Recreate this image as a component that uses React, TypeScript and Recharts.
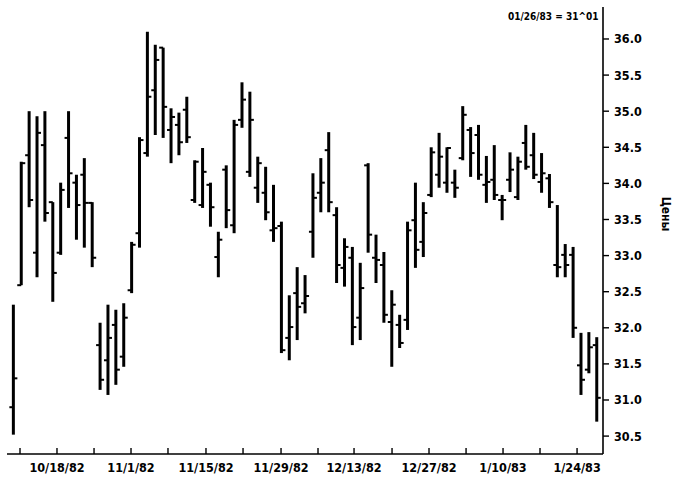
import React from 'react';
import { ComposedChart, Bar, XAxis, YAxis } from 'recharts';

// Daily OHLC (trading-day index 0..74)
const highs = [
  32.32, 34.30, 35.00, 34.93, 35.00, 33.74, 34.01, 35.00, 34.12, 34.35,
  33.74, 32.07, 32.32, 32.25, 32.34, 33.19, 34.64, 36.10, 35.92, 35.88,
  35.04, 34.98, 35.20, 34.32, 34.49, 34.01, 33.33, 34.25, 34.88, 35.40,
  35.27, 34.37, 34.23, 33.98, 33.47, 32.45, 32.84, 32.73, 34.14, 34.35,
  34.71, 33.67, 33.24, 33.12, 32.90, 34.28, 33.29, 33.05, 32.52, 32.18,
  33.47, 34.01, 33.74, 34.50, 34.70, 34.50, 34.19, 35.07, 34.78, 34.81,
  34.38, 34.53, 33.84, 34.43, 34.37, 34.81, 34.70, 34.42, 34.13, 33.70,
  33.16, 33.12, 31.93, 31.94, 31.87,
];
const lows = [
  30.52, 32.59, 33.67, 32.70, 33.47, 32.36, 33.01, 33.66, 33.22, 33.11,
  32.84, 31.14, 31.07, 31.21, 31.46, 32.48, 33.11, 34.37, 34.67, 34.63,
  34.28, 34.39, 34.56, 33.73, 33.66, 33.40, 32.70, 33.38, 33.31, 34.77,
  34.09, 33.73, 33.49, 33.19, 31.65, 31.55, 31.83, 32.20, 32.97, 33.60,
  33.60, 32.62, 32.57, 31.76, 31.83, 33.04, 32.62, 32.07, 31.46, 31.72,
  31.97, 32.83, 32.98, 33.81, 33.94, 33.87, 33.80, 34.32, 34.09, 34.05,
  33.73, 33.77, 33.49, 33.88, 33.77, 34.19, 34.06, 33.87, 33.66, 32.70,
  32.70, 31.86, 31.07, 31.37, 30.70,
];
const opens = [
  30.90, 32.59, 34.39, 33.04, 34.53, 33.74, 33.04, 34.63, 34.01, 34.12,
  33.73, 31.76, 31.55, 32.04, 31.60, 32.52, 33.31, 34.42, 35.29, 35.88,
  34.74, 34.81, 35.02, 33.77, 33.70, 33.98, 32.98, 34.19, 33.42, 34.88,
  34.16, 33.94, 33.87, 33.35, 33.41, 31.86, 32.48, 32.34, 33.33, 33.87,
  34.46, 33.56, 32.83, 32.97, 32.14, 34.25, 32.97, 32.87, 32.08, 32.04,
  32.11, 33.49, 33.19, 33.84, 34.12, 34.01, 34.01, 34.35, 34.74, 34.67,
  33.98, 34.05, 33.77, 34.05, 33.81, 34.56, 34.39, 34.02, 34.07, 32.87,
  33.01, 33.01, 31.48, 31.42, 31.76,
];
const closes = [
  31.30, 34.28, 33.77, 34.70, 33.59, 32.76, 33.91, 34.14, 33.70, 33.73,
  32.97, 31.28, 31.86, 31.42, 32.14, 33.15, 34.60, 35.20, 35.71, 35.06,
  34.92, 34.57, 34.64, 34.30, 34.16, 33.67, 33.22, 33.63, 34.81, 35.16,
  34.88, 34.28, 33.60, 33.38, 31.69, 32.01, 32.29, 32.44, 33.80, 34.01,
  33.74, 32.87, 33.12, 32.01, 32.55, 33.29, 32.94, 32.18, 32.32, 31.79,
  33.35, 33.08, 33.59, 34.43, 34.37, 34.49, 33.94, 34.95, 34.42, 34.12,
  34.02, 33.84, 33.77, 34.19, 34.30, 34.23, 34.12, 34.14, 33.74, 32.84,
  32.87, 32.00, 31.28, 31.73, 31.03,
];

// Date axis: tick positions (in trading-day units) and their labels
const dateTickPositions = [
  0.85, 5.54, 10.24, 14.93, 19.62, 24.44, 29.14, 33.96,
  38.65, 43.22, 48.04, 52.73, 57.43, 62.12, 66.81, 71.51,
];
const dateTickLabels = [
  '', '10/18/82', '', '11/1/82', '', '11/15/82', '', '11/29/82',
  '', '12/13/82', '', '12/27/82', '', '1/10/83', '', '1/24/83',
];
const priceTicks = [30.5, 31.0, 31.5, 32.0, 32.5, 33.0, 33.5, 34.0, 34.5, 35.0, 35.5, 36.0];

const lastNote = '01/26/83 = 31^01';
const yTitle = 'Цены';

const data = highs.map((h, i) => ({
  idx: i,
  high: h,
  low: lows[i],
  open: opens[i],
  close: closes[i],
  range: [lows[i], h],
}));

const labelMap = new Map(dateTickPositions.map((p, i) => [p, dateTickLabels[i]]));

const FONT = '"DejaVu Sans Condensed", "DejaVu Sans", sans-serif';

const OhlcShape = (props: any) => {
  const { x, y, width, height, payload } = props;
  if (x == null || y == null) return null;
  const { high, low, open, close } = payload;
  const cx = x + width / 2;
  const span = high - low || 1;
  const py = (v: number) => y + ((high - v) / span) * height;
  return (
    <g>
      <line x1={cx} x2={cx} y1={y} y2={y + height} stroke="#000" strokeWidth={3} />
      <line x1={cx - 4} x2={cx} y1={py(open)} y2={py(open)} stroke="#000" strokeWidth={2} />
      <line x1={cx} x2={cx + 4} y1={py(close)} y2={py(close)} stroke="#000" strokeWidth={2} />
    </g>
  );
};

export default function App() {
  const xDomain = [-0.8, 74.8];
  const yDomain = [30.252, 36.443];
  return (
    <div style={{ position: 'absolute', left: 0, top: 0, width: 681, height: 482, background: '#fff' }}>
      <ComposedChart
        width={681}
        height={482}
        data={data}
        margin={{ top: 7, right: 23, bottom: 0, left: 7 }}
      >
        <XAxis
          dataKey="idx"
          type="number"
          domain={xDomain}
          allowDataOverflow
          ticks={dateTickPositions}
          interval={0}
          tickFormatter={(v: number) => labelMap.get(v) ?? ''}
          tickSize={-6}
          tickMargin={15}
          height={28}
          axisLine={{ stroke: '#000', strokeWidth: 1.6 }}
          tickLine={{ stroke: '#000', strokeWidth: 1.4 }}
          tick={{ fontFamily: FONT, fontWeight: 700, fontSize: 12.5, fill: '#000' }}
        />
        <XAxis
          xAxisId="top"
          dataKey="idx"
          type="number"
          orientation="top"
          domain={xDomain}
          allowDataOverflow
          height={0}
          tick={false}
          tickLine={false}
          axisLine={{ stroke: '#000', strokeWidth: 1.6 }}
        />
        <YAxis
          orientation="right"
          type="number"
          domain={yDomain}
          allowDataOverflow
          ticks={priceTicks}
          interval={0}
          tickFormatter={(v: number) => v.toFixed(1)}
          width={55}
          tickSize={6}
          tickMargin={5}
          axisLine={{ stroke: '#000', strokeWidth: 1.6 }}
          tickLine={{ stroke: '#000', strokeWidth: 1.4 }}
          tick={{ fontFamily: FONT, fontWeight: 700, fontSize: 12.5, fill: '#000' }}
        />
        <YAxis
          yAxisId="left"
          orientation="left"
          type="number"
          domain={yDomain}
          allowDataOverflow
          width={0}
          tick={false}
          tickLine={false}
          axisLine={{ stroke: '#000', strokeWidth: 1.6 }}
        />
        <Bar dataKey="range" barSize={4} isAnimationActive={false} shape={OhlcShape} />
      </ComposedChart>
      <div
        style={{
          position: 'absolute',
          left: 508,
          top: 11,
          fontFamily: FONT,
          fontWeight: 700,
          fontSize: 10,
          color: '#000',
          whiteSpace: 'nowrap',
        }}
      >
        {lastNote}
      </div>
      <div
        style={{
          position: 'absolute',
          left: 666,
          top: 214,
          transform: 'translate(-50%, -50%) rotate(90deg)',
          fontFamily: FONT,
          fontWeight: 700,
          fontSize: 12,
          color: '#000',
          whiteSpace: 'nowrap',
        }}
      >
        {yTitle}
      </div>
    </div>
  );
}
